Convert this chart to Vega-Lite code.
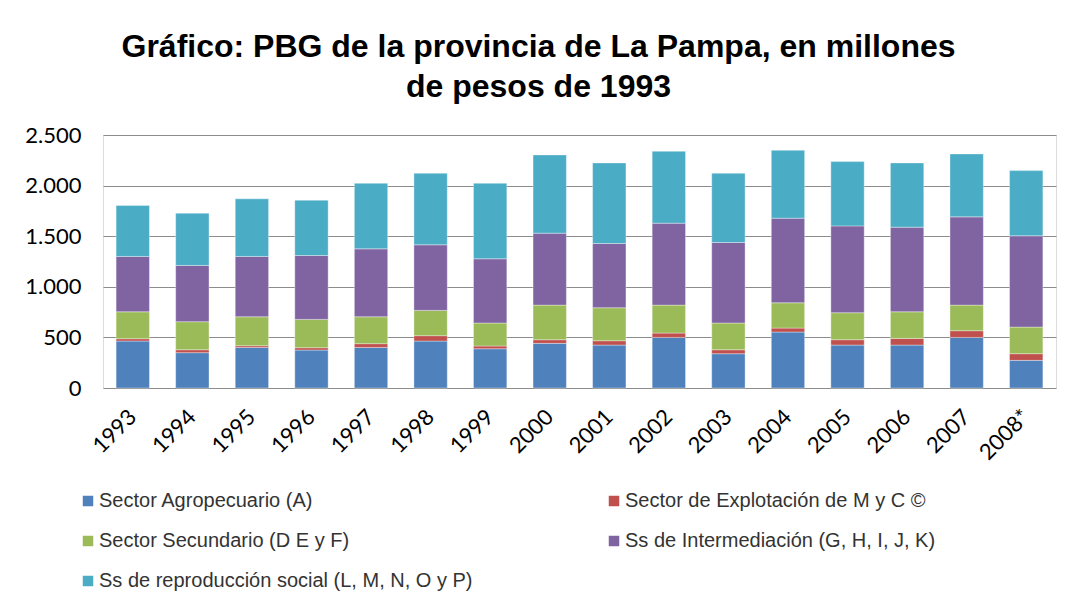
{
  "$schema": "https://vega.github.io/schema/vega-lite/v6.json",
  "autosize": {"type": "none"},
  "width": 953,
  "height": 253,
  "padding": {"left": 103, "top": 135, "right": 17, "bottom": 218},
  "background": "white",
  "title": {
    "text": ["Gráfico: PBG de la provincia de La Pampa, en millones", "de pesos de 1993"],
    "font": "Liberation Sans",
    "fontSize": 32,
    "fontWeight": "bold",
    "color": "#000000",
    "anchor": "middle",
    "dx": -41,
    "lineHeight": 40,
    "offset": 20
  },
  "data": {
    "values": [
      {"year": "1993", "sector": "Sector Agropecuario (A)", "value": 464},
      {"year": "1993", "sector": "Sector de Explotación de M y C ©", "value": 23},
      {"year": "1993", "sector": "Sector Secundario (D E y F)", "value": 266},
      {"year": "1993", "sector": "Ss de Intermediación (G, H, I, J, K)", "value": 547},
      {"year": "1993", "sector": "Ss de reproducción social (L, M, N, O y P)", "value": 503},
      {"year": "1994", "sector": "Sector Agropecuario (A)", "value": 349},
      {"year": "1994", "sector": "Sector de Explotación de M y C ©", "value": 29},
      {"year": "1994", "sector": "Sector Secundario (D E y F)", "value": 277},
      {"year": "1994", "sector": "Ss de Intermediación (G, H, I, J, K)", "value": 556},
      {"year": "1994", "sector": "Ss de reproducción social (L, M, N, O y P)", "value": 516},
      {"year": "1995", "sector": "Sector Agropecuario (A)", "value": 401},
      {"year": "1995", "sector": "Sector de Explotación de M y C ©", "value": 17},
      {"year": "1995", "sector": "Sector Secundario (D E y F)", "value": 286},
      {"year": "1995", "sector": "Ss de Intermediación (G, H, I, J, K)", "value": 596},
      {"year": "1995", "sector": "Ss de reproducción social (L, M, N, O y P)", "value": 569},
      {"year": "1996", "sector": "Sector Agropecuario (A)", "value": 375},
      {"year": "1996", "sector": "Sector de Explotación de M y C ©", "value": 23},
      {"year": "1996", "sector": "Sector Secundario (D E y F)", "value": 280},
      {"year": "1996", "sector": "Ss de Intermediación (G, H, I, J, K)", "value": 631},
      {"year": "1996", "sector": "Ss de reproducción social (L, M, N, O y P)", "value": 547},
      {"year": "1997", "sector": "Sector Agropecuario (A)", "value": 401},
      {"year": "1997", "sector": "Sector de Explotación de M y C ©", "value": 37},
      {"year": "1997", "sector": "Sector Secundario (D E y F)", "value": 266},
      {"year": "1997", "sector": "Ss de Intermediación (G, H, I, J, K)", "value": 671},
      {"year": "1997", "sector": "Ss de reproducción social (L, M, N, O y P)", "value": 648},
      {"year": "1998", "sector": "Sector Agropecuario (A)", "value": 464},
      {"year": "1998", "sector": "Sector de Explotación de M y C ©", "value": 53},
      {"year": "1998", "sector": "Sector Secundario (D E y F)", "value": 250},
      {"year": "1998", "sector": "Ss de Intermediación (G, H, I, J, K)", "value": 648},
      {"year": "1998", "sector": "Ss de reproducción social (L, M, N, O y P)", "value": 707},
      {"year": "1999", "sector": "Sector Agropecuario (A)", "value": 388},
      {"year": "1999", "sector": "Sector de Explotación de M y C ©", "value": 27},
      {"year": "1999", "sector": "Sector Secundario (D E y F)", "value": 227},
      {"year": "1999", "sector": "Ss de Intermediación (G, H, I, J, K)", "value": 635},
      {"year": "1999", "sector": "Ss de reproducción social (L, M, N, O y P)", "value": 746},
      {"year": "2000", "sector": "Sector Agropecuario (A)", "value": 441},
      {"year": "2000", "sector": "Sector de Explotación de M y C ©", "value": 36},
      {"year": "2000", "sector": "Sector Secundario (D E y F)", "value": 342},
      {"year": "2000", "sector": "Ss de Intermediación (G, H, I, J, K)", "value": 711},
      {"year": "2000", "sector": "Ss de reproducción social (L, M, N, O y P)", "value": 773},
      {"year": "2001", "sector": "Sector Agropecuario (A)", "value": 424},
      {"year": "2001", "sector": "Sector de Explotación de M y C ©", "value": 43},
      {"year": "2001", "sector": "Sector Secundario (D E y F)", "value": 326},
      {"year": "2001", "sector": "Ss de Intermediación (G, H, I, J, K)", "value": 635},
      {"year": "2001", "sector": "Ss de reproducción social (L, M, N, O y P)", "value": 796},
      {"year": "2002", "sector": "Sector Agropecuario (A)", "value": 500},
      {"year": "2002", "sector": "Sector de Explotación de M y C ©", "value": 43},
      {"year": "2002", "sector": "Sector Secundario (D E y F)", "value": 276},
      {"year": "2002", "sector": "Ss de Intermediación (G, H, I, J, K)", "value": 810},
      {"year": "2002", "sector": "Ss de reproducción social (L, M, N, O y P)", "value": 710},
      {"year": "2003", "sector": "Sector Agropecuario (A)", "value": 339},
      {"year": "2003", "sector": "Sector de Explotación de M y C ©", "value": 39},
      {"year": "2003", "sector": "Sector Secundario (D E y F)", "value": 264},
      {"year": "2003", "sector": "Ss de Intermediación (G, H, I, J, K)", "value": 796},
      {"year": "2003", "sector": "Ss de reproducción social (L, M, N, O y P)", "value": 684},
      {"year": "2004", "sector": "Sector Agropecuario (A)", "value": 553},
      {"year": "2004", "sector": "Sector de Explotación de M y C ©", "value": 39},
      {"year": "2004", "sector": "Sector Secundario (D E y F)", "value": 250},
      {"year": "2004", "sector": "Ss de Intermediación (G, H, I, J, K)", "value": 836},
      {"year": "2004", "sector": "Ss de reproducción social (L, M, N, O y P)", "value": 671},
      {"year": "2005", "sector": "Sector Agropecuario (A)", "value": 424},
      {"year": "2005", "sector": "Sector de Explotación de M y C ©", "value": 53},
      {"year": "2005", "sector": "Sector Secundario (D E y F)", "value": 267},
      {"year": "2005", "sector": "Ss de Intermediación (G, H, I, J, K)", "value": 858},
      {"year": "2005", "sector": "Ss de reproducción social (L, M, N, O y P)", "value": 635},
      {"year": "2006", "sector": "Sector Agropecuario (A)", "value": 424},
      {"year": "2006", "sector": "Sector de Explotación de M y C ©", "value": 66},
      {"year": "2006", "sector": "Sector Secundario (D E y F)", "value": 263},
      {"year": "2006", "sector": "Ss de Intermediación (G, H, I, J, K)", "value": 836},
      {"year": "2006", "sector": "Ss de reproducción social (L, M, N, O y P)", "value": 635},
      {"year": "2007", "sector": "Sector Agropecuario (A)", "value": 500},
      {"year": "2007", "sector": "Sector de Explotación de M y C ©", "value": 66},
      {"year": "2007", "sector": "Sector Secundario (D E y F)", "value": 253},
      {"year": "2007", "sector": "Ss de Intermediación (G, H, I, J, K)", "value": 872},
      {"year": "2007", "sector": "Ss de reproducción social (L, M, N, O y P)", "value": 622},
      {"year": "2008*", "sector": "Sector Agropecuario (A)", "value": 273},
      {"year": "2008*", "sector": "Sector de Explotación de M y C ©", "value": 66},
      {"year": "2008*", "sector": "Sector Secundario (D E y F)", "value": 263},
      {"year": "2008*", "sector": "Ss de Intermediación (G, H, I, J, K)", "value": 902},
      {"year": "2008*", "sector": "Ss de reproducción social (L, M, N, O y P)", "value": 644}
    ]
  },
  "transform": [
    {"calculate": "indexof(['Sector Agropecuario (A)', 'Sector de Explotación de M y C ©', 'Sector Secundario (D E y F)', 'Ss de Intermediación (G, H, I, J, K)', 'Ss de reproducción social (L, M, N, O y P)'], datum.sector)", "as": "stackOrder"}
  ],
  "mark": {"type": "bar", "stroke": "#ffffff", "strokeWidth": 0.6, "strokeOpacity": 0.6},
  "encoding": {
    "x": {
      "field": "year",
      "type": "nominal",
      "sort": null,
      "title": null,
      "scale": {"paddingInner": 0.44, "paddingOuter": 0.22},
      "axis": {
        "domain": false,
        "ticks": false,
        "labelAngle": -45,
        "labelAlign": "right",
        "labelBaseline": "middle",
        "labelPadding": 25,
        "labelFont": "Lato",
        "labelFontSize": 22,
        "labelColor": "#000000"
      }
    },
    "y": {
      "field": "value",
      "type": "quantitative",
      "stack": "zero",
      "title": null,
      "scale": {"domain": [0, 2500], "nice": false},
      "axis": {
        "values": [0, 500, 1000, 1500, 2000, 2500],
        "domain": false,
        "ticks": false,
        "labelPadding": 22,
        "labelFont": "Lato",
        "labelFontSize": 22,
        "labelColor": "#000000",
        "labelExpr": "replace(format(datum.value, ','), ',', '.')",
        "gridColor": "#8c8c8c",
        "gridWidth": 1
      }
    },
    "order": {"field": "stackOrder", "type": "quantitative", "sort": "ascending"},
    "color": {
      "field": "sector",
      "type": "nominal",
      "sort": [
        "Sector Agropecuario (A)",
        "Sector de Explotación de M y C ©",
        "Sector Secundario (D E y F)",
        "Ss de Intermediación (G, H, I, J, K)",
        "Ss de reproducción social (L, M, N, O y P)"
      ],
      "scale": {
        "domain": [
          "Sector Agropecuario (A)",
          "Sector de Explotación de M y C ©",
          "Sector Secundario (D E y F)",
          "Ss de Intermediación (G, H, I, J, K)",
          "Ss de reproducción social (L, M, N, O y P)"
        ],
        "range": ["#4F81BD", "#C0504D", "#9BBB59", "#8064A2", "#4BACC6"]
      },
      "legend": {
        "title": null,
        "orient": "none",
        "legendX": -25,
        "legendY": 356,
        "direction": "horizontal",
        "columns": 2,
        "columnPadding": 131,
        "rowPadding": 20,
        "symbolType": "square",
        "symbolSize": 110,
        "symbolStrokeWidth": 0,
        "symbolOffset": 0,
        "labelOffset": 1,
        "labelFont": "Liberation Sans",
        "labelFontSize": 20,
        "labelColor": "#333333",
        "labelLimit": 600,
        "padding": 0
      }
    }
  }
}
